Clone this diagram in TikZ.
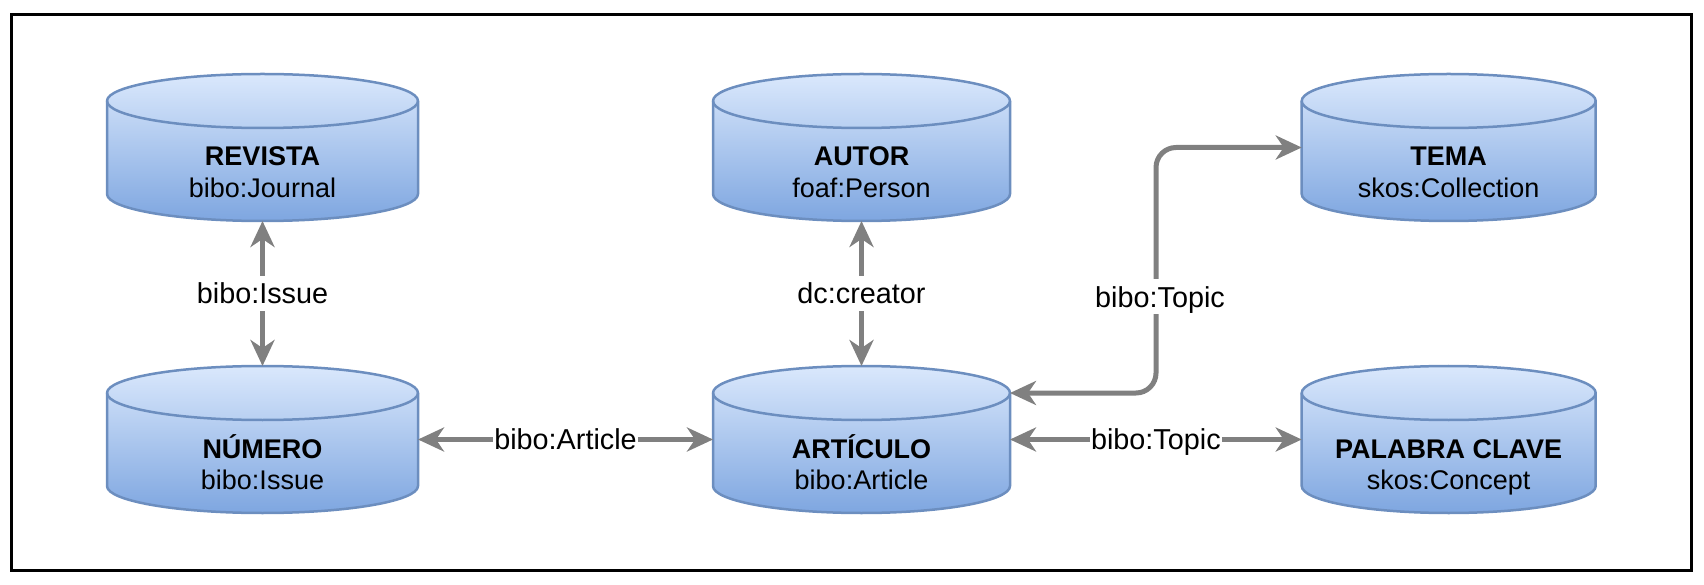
\documentclass[tikz,border=0pt]{standalone}
\usepackage{fontspec}
\setmainfont{Liberation Sans}
\usetikzlibrary{arrows.meta}
\definecolor{cylA}{HTML}{DAE8FC}
\definecolor{cylB}{HTML}{7EA6E0}
\definecolor{cylline}{HTML}{6C8EBF}
\definecolor{connclr}{HTML}{808080}
% name, cx, bottom Y, width, height, title, subtitle
\newcommand\dbcyl[7]{%
  \node[cylbox, minimum width=#4pt, minimum height=#5pt, anchor=south] (#1) at (#2,#3) {};
  \path[cylbody] ([yshift=-27pt]#1.north west) -- ([yshift=27pt]#1.south west)
     arc[start angle=180, end angle=360, x radius=0.5*#4pt, y radius=27pt]
     -- ([yshift=-27pt]#1.north east)
     arc[start angle=0, end angle=180, x radius=0.5*#4pt, y radius=27pt] -- cycle;
  \draw[cylrim] ([yshift=-27pt]#1.north west)
     arc[start angle=180, end angle=360, x radius=0.5*#4pt, y radius=27pt];
  \node[cyltitle, anchor=base] (#1-t) at ([yshift=55pt]#1.south) {#6};
  \node[cylsub, anchor=base] (#1-s) at ([yshift=23.7pt]#1.south) {#7};
}
\begin{document}
\begin{tikzpicture}[x=1pt,y=1pt,
  cylbox/.style={rectangle, draw=none, inner sep=0pt, outer sep=0pt},
  cylbody/.style={top color=cylA, bottom color=cylB, draw=cylline, line width=2.5pt},
  cylrim/.style={draw=cylline, line width=2.5pt},
  cyltitle/.style={font=\fontsize{27}{31}\selectfont\bfseries, inner sep=0pt},
  cylsub/.style={font=\fontsize{27}{31}\selectfont, inner sep=0pt},
  conn/.style={draw=connclr, line width=5pt,
    {Stealth[length=26pt,width=24pt,inset=8pt]}-{Stealth[length=26pt,width=24pt,inset=8pt]}},
  elabel/.style={font=\fontsize{28.8}{33}\selectfont, fill=white, inner xsep=1pt, inner ysep=7pt, text depth=0pt}
]
\useasboundingbox (0,0) rectangle (1704,584);
\draw[line width=3pt] (11.5,14) rectangle (1691,569.5);

\dbcyl{revista}{262.5}{363}{311}{147}{REVISTA}{bibo:Journal}
\dbcyl{autor}{861.5}{363}{297}{147}{AUTOR}{foaf:Person}
\dbcyl{tema}{1448.7}{363}{294}{147}{TEMA}{skos:Collection}
\dbcyl{numero}{262.5}{71}{311}{147}{NÚMERO}{bibo:Issue}
\dbcyl{articulo}{861.5}{71}{297}{147}{ARTÍCULO}{bibo:Article}
\dbcyl{palabra}{1448.7}{71}{294}{147}{PALABRA CLAVE}{skos:Concept}

\draw[conn] (revista.south) -- node[elabel] (lissue) {bibo:Issue} (numero.north);
\draw[conn] (autor.south) -- node[elabel] (lcreator) {dc:creator} (articulo.north);
\draw[conn] (numero.east) -- node[elabel] (larticle) {bibo:Article} (articulo.west);
\draw[conn] (articulo.east) -- node[elabel] (ltopic2) {bibo:Topic} (palabra.west);

\coordinate (artTop) at ([yshift=-27pt]articulo.north east);
\coordinate (bend) at ([xshift=146pt]artTop);
\draw[conn, rounded corners=20pt] (artTop) -- (bend) |- (tema.west);
\node[elabel] (ltopic1) at (1160,287.3) {bibo:Topic};
\end{tikzpicture}
\end{document}
